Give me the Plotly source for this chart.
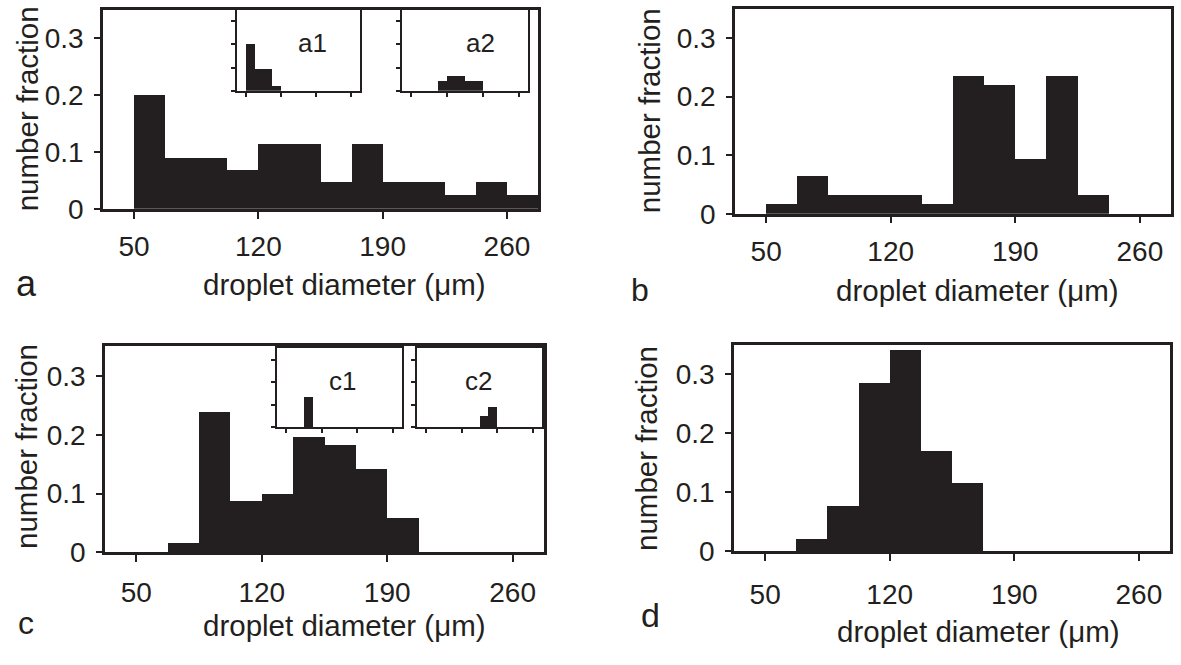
import plotly.graph_objects as go

# ---------------- data ----------------
bin_left = [50, 67.5, 85, 102.5, 120, 137.5, 155, 172.5, 190, 207.5, 225, 242.5, 260]
bin_width = 17.5

frac_a = [0.200, 0.090, 0.090, 0.069, 0.114, 0.114, 0.047, 0.114, 0.047, 0.047, 0.024, 0.047, 0.024]
frac_b = [0.017, 0.064, 0.032, 0.032, 0.032, 0.017, 0.235, 0.220, 0.094, 0.235, 0.032, 0.0, 0.0]
frac_c = [0.0, 0.015, 0.238, 0.086, 0.099, 0.196, 0.182, 0.141, 0.057, 0.0, 0.0, 0.0, 0.0]
frac_d = [0.0, 0.022, 0.078, 0.286, 0.342, 0.171, 0.117, 0.0, 0.0, 0.0, 0.0, 0.0, 0.0]

frac_a1 = [0.203, 0.094, 0.094, 0.021, 0, 0, 0, 0, 0, 0, 0, 0, 0]
frac_a2 = [0, 0, 0, 0.042, 0.064, 0.064, 0.042, 0.042, 0, 0, 0, 0, 0]
frac_c1 = [0, 0, 0.133, 0, 0, 0, 0, 0, 0, 0, 0, 0, 0]
frac_c2 = [0, 0, 0, 0, 0, 0, 0.049, 0.091, 0, 0, 0, 0, 0]

x_ticks = [50, 120, 190, 260]
x_ticktext = ["50", "120", "190", "260"]
y_ticks = [0, 0.1, 0.2, 0.3]
y_ticktext = ["0", "0.1", "0.2", "0.3"]

panel_letters = ["a", "b", "c", "d"]
inset_names = ["a1", "a2", "c1", "c2"]
x_title = "droplet diameter (\u03bcm)"
y_title = "number fraction"

# ---------------- layout helpers ----------------
W, H = 1181, 665
INK = "#231f20"
FONT = "Liberation Sans, Arial, Helvetica, sans-serif"
XR = [32.5, 277.5]
YR = [0, 0.35]
TICK_SIZE = 28

def xd(x0, x1):
    return [x0 / W, x1 / W]

def yd(y0, y1):  # pixel top, bottom -> paper domain
    return [1 - y1 / H, 1 - y0 / H]

fig = go.Figure()

centers = [b + bin_width / 2 for b in bin_left]

# main panels: (values, x px, y px, x-label standoff)
main_panels = [
    (frac_a, (103, 538), (10, 214), 4),
    (frac_b, (735, 1171), (9, 219), 4),
    (frac_c, (105, 544), (355, 566), 6),
    (frac_d, (734, 1170), (353, 565), 9),
]
inset_panels = [
    (frac_a1, (237, 360), (10, 93)),
    (frac_a2, (402, 528), (10, 93)),
    (frac_c1, (277, 402), (357, 438)),
    (frac_c2, (417, 542), (357, 438)),
]

layout = dict(
    width=W, height=H, margin=dict(l=0, r=0, t=0, b=0),
    paper_bgcolor="white", plot_bgcolor="white", showlegend=False,
    bargap=0, font=dict(family=FONT, color=INK),
)

annotations = []
idx = 0
for k, (vals, (x0, x1), (y0, y1), xso) in enumerate(main_panels):
    idx += 1
    sfx = "" if idx == 1 else str(idx)
    fig.add_trace(go.Bar(x=centers, y=vals, width=bin_width,
                         marker=dict(color=INK, line=dict(width=0)),
                         xaxis="x" + sfx, yaxis="y" + sfx, hoverinfo="skip"))
    layout["xaxis" + sfx] = dict(
        domain=xd(x0, x1), range=XR, anchor="y" + sfx, showgrid=False, zeroline=False,
        showline=True, linecolor=INK, linewidth=2.5, mirror=True,
        ticks="outside", ticklen=7, tickwidth=2, tickcolor=INK, ticklabelstandoff=xso,
        tickvals=x_ticks, ticktext=x_ticktext, tickfont=dict(size=TICK_SIZE, color=INK, family=FONT))
    layout["yaxis" + sfx] = dict(
        domain=yd(y0, y1), range=YR, anchor="x" + sfx, showgrid=False, zeroline=False,
        showline=True, linecolor=INK, linewidth=2.5, mirror=True,
        ticks="outside", ticklen=6, tickwidth=2, tickcolor=INK, ticklabelstandoff=5,
        tickvals=y_ticks, ticktext=y_ticktext, tickfont=dict(size=TICK_SIZE, color=INK, family=FONT))

for k, (vals, (x0, x1), (y0, y1)) in enumerate(inset_panels):
    idx += 1
    sfx = str(idx)
    fig.add_trace(go.Bar(x=centers, y=vals, width=bin_width,
                         marker=dict(color=INK, line=dict(width=0)),
                         xaxis="x" + sfx, yaxis="y" + sfx, hoverinfo="skip"))
    layout["xaxis" + sfx] = dict(
        domain=xd(x0, x1), range=XR, anchor="y" + sfx, showgrid=False, zeroline=False,
        showline=True, linecolor=INK, linewidth=2, mirror=True,
        ticks="outside", ticklen=4, tickwidth=1.5, tickcolor=INK,
        tickvals=x_ticks, showticklabels=False)
    layout["yaxis" + sfx] = dict(
        domain=yd(y0, y1), range=YR, anchor="x" + sfx, showgrid=False, zeroline=False,
        showline=True, linecolor=INK, linewidth=2, mirror=True,
        ticks="outside", ticklen=4, tickwidth=1.5, tickcolor=INK,
        tickvals=y_ticks, showticklabels=False)

def ann(text, x, y, size, angle=0):
    annotations.append(dict(text=text, x=x / W, y=1 - y / H, xref="paper", yref="paper",
                            showarrow=False, xanchor="center", yanchor="middle", textangle=angle,
                            font=dict(size=size, color=INK, family=FONT)))

TS = 29.5
# axis titles
ann(x_title, 345, 292, TS)
ann(x_title, 977, 298, TS)
ann(x_title, 345, 641, TS)
ann(x_title, 978, 647, TS)
ann(y_title, 27, 112, TS, -90)
ann(y_title, 649, 114, TS, -90)
ann(y_title, 27, 458, TS, -90)
ann(y_title, 647, 459, TS, -90)

# panel letters
ann(panel_letters[0], 26, 290, 36)
ann(panel_letters[1], 640, 297, 32)
ann(panel_letters[2], 26, 638, 32)
ann(panel_letters[3], 650, 630, 34)

# inset labels
ann(inset_names[0], 312, 44, 26)
ann(inset_names[1], 480, 44, 26)
ann(inset_names[2], 342, 390, 26)
ann(inset_names[3], 478, 390, 26)

layout["annotations"] = annotations
fig.update_layout(**layout)
fig.write_html("out.html")
